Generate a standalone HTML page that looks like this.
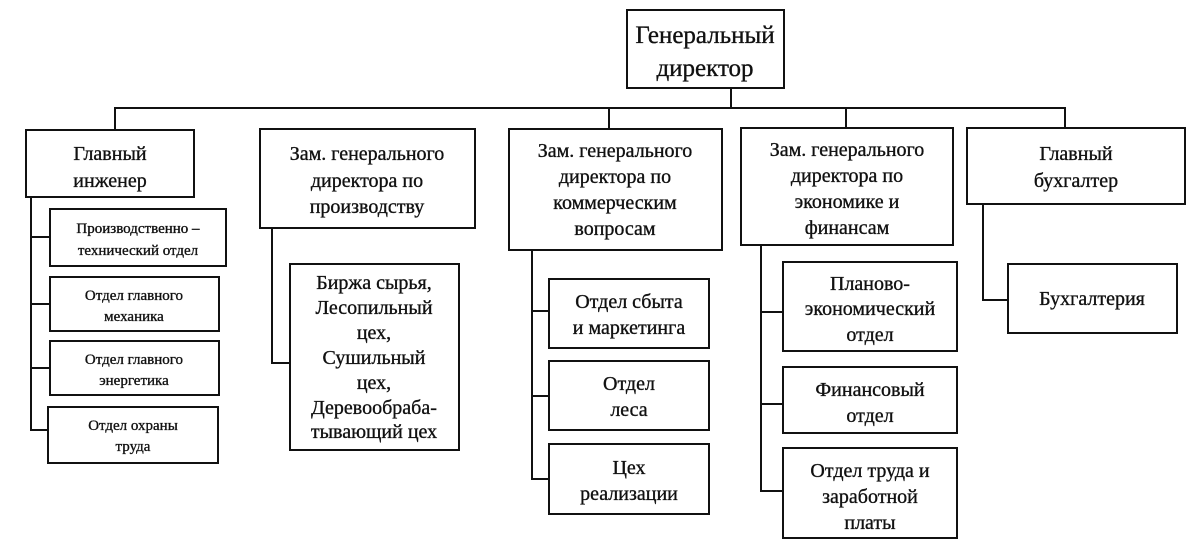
<!DOCTYPE html>
<html><head><meta charset="utf-8"><style>
html,body{margin:0;padding:0;background:#fff}
svg{display:block}
text{font-family:"Liberation Serif","DejaVu Serif",serif;fill:#111;stroke:#111;stroke-width:0.35;text-anchor:middle}
</style></head><body>
<svg width="1192" height="553" viewBox="0 0 1192 553" xmlns="http://www.w3.org/2000/svg">
<g fill="none" stroke="#111" stroke-width="2">
<rect x="627" y="10" width="157" height="78"/>
<rect x="26" y="130" width="168" height="67"/>
<rect x="260" y="129" width="215" height="99"/>
<rect x="509" y="129" width="213" height="121"/>
<rect x="741" y="128" width="212" height="117"/>
<rect x="967" y="128" width="218" height="76"/>
<rect x="50" y="209" width="176" height="57"/>
<rect x="50" y="277" width="169" height="54"/>
<rect x="50" y="341" width="169" height="54"/>
<rect x="48" y="407" width="170" height="56"/>
<rect x="290" y="264" width="169" height="186"/>
<rect x="549" y="279" width="160" height="69"/>
<rect x="549" y="361" width="160" height="69"/>
<rect x="549" y="444" width="160" height="70"/>
<rect x="783" y="262" width="174" height="89"/>
<rect x="783" y="367" width="174" height="66"/>
<rect x="783" y="448" width="174" height="90"/>
<rect x="1008" y="264" width="169" height="69"/>
<polyline points="731,88 731,108"/>
<polyline points="115,130 115,108 1065,108 1065,128"/>
<polyline points="609,108 609,129"/>
<polyline points="846,108 846,128"/>
<polyline points="31,197 31,430 48,430"/>
<polyline points="31,237 50,237"/><polyline points="31,304 50,304"/><polyline points="31,368 50,368"/>
<polyline points="272,228 272,363 290,363"/>
<polyline points="532,250 532,479 549,479"/>
<polyline points="532,311 549,311"/><polyline points="532,396 549,396"/>
<polyline points="761,245 761,491 783,491"/>
<polyline points="761,312 783,312"/><polyline points="761,404 783,404"/>
<polyline points="983,204 983,300 1008,300"/>
</g>
<text font-size="25" x="705" y="43">Генеральный</text>
<text font-size="25" x="705" y="76">директор</text>
<text font-size="20" x="110" y="160">Главный</text>
<text font-size="20" x="110" y="187">инженер</text>
<text font-size="20" x="367" y="160">Зам. генерального</text>
<text font-size="20" x="367" y="187">директора по</text>
<text font-size="20" x="367" y="213">производству</text>
<text font-size="20" x="615" y="157">Зам. генерального</text>
<text font-size="20" x="615" y="183">директора по</text>
<text font-size="20" x="615" y="209">коммерческим</text>
<text font-size="20" x="615" y="235">вопросам</text>
<text font-size="20" x="847" y="156">Зам. генерального</text>
<text font-size="20" x="847" y="182">директора по</text>
<text font-size="20" x="847" y="208">экономике и</text>
<text font-size="20" x="847" y="234">финансам</text>
<text font-size="20" x="1076" y="160">Главный</text>
<text font-size="20" x="1076" y="187">бухгалтер</text>
<text font-size="15" x="138" y="233">Производственно –</text>
<text font-size="15" x="138" y="255">технический отдел</text>
<text font-size="15" x="134" y="300">Отдел главного</text>
<text font-size="15" x="134" y="321">механика</text>
<text font-size="15" x="134" y="364">Отдел главного</text>
<text font-size="15" x="134" y="385">энергетика</text>
<text font-size="15" x="133" y="430">Отдел охраны</text>
<text font-size="15" x="133" y="451">труда</text>
<text font-size="20" x="374" y="289">Биржа сырья,</text>
<text font-size="20" x="374" y="314">Лесопильный</text>
<text font-size="20" x="374" y="339">цех,</text>
<text font-size="20" x="374" y="364">Сушильный</text>
<text font-size="20" x="374" y="389">цех,</text>
<text font-size="20" x="374" y="414">Деревообраба-</text>
<text font-size="20" x="374" y="438">тывающий цех</text>
<text font-size="20" x="629" y="308">Отдел сбыта</text>
<text font-size="20" x="629" y="334">и маркетинга</text>
<text font-size="20" x="629" y="390">Отдел</text>
<text font-size="20" x="629" y="416">леса</text>
<text font-size="20" x="629" y="474">Цех</text>
<text font-size="20" x="629" y="500">реализации</text>
<text font-size="20" x="870" y="290">Планово-</text>
<text font-size="20" x="870" y="315">экономический</text>
<text font-size="20" x="870" y="341">отдел</text>
<text font-size="20" x="870" y="396">Финансовый</text>
<text font-size="20" x="870" y="422">отдел</text>
<text font-size="20" x="870" y="477">Отдел труда и</text>
<text font-size="20" x="870" y="503">заработной</text>
<text font-size="20" x="870" y="529">платы</text>
<text font-size="20" x="1092" y="305">Бухгалтерия</text>
</svg>
</body></html>
